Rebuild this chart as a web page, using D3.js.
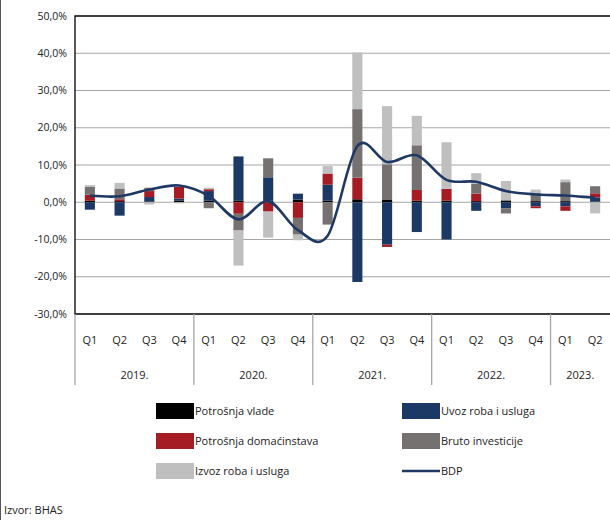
<!DOCTYPE html>
<html lang="bs">
<head>
<meta charset="UTF-8">
<title>Doprinosi rastu BDP-a</title>
<script src="https://cdn.jsdelivr.net/npm/d3@7"></script>
<style>
    body { margin: 0; background: #fff; }
    svg { display: block; font-family: "Open Sans", sans-serif; }
    .grid line { stroke: #a6a6a6; stroke-width: 1.2; }
    .ylab text { font-size: 10.5px; fill: #222; }
    .xlab text { font-size: 11px; fill: #222; }
    .legend text { font-size: 11px; fill: #222; }
</style>
</head>
<body>
<div id="chart"></div>
<script>
    // data, 2019 Q1 .. 2023 Q2
    var quarters = ["Q1", "Q2", "Q3", "Q4", "Q1", "Q2", "Q3", "Q4", "Q1", "Q2", "Q3", "Q4", "Q1", "Q2", "Q3", "Q4", "Q1", "Q2"];
    var years = ["2019.", "2020.", "2021.", "2022.", "2023."];
    var yearSpan = [4, 4, 4, 4, 2];
    var yTicks = [-30, -20, -10, 0, 10, 20, 30, 40, 50];

    var vlade = [0.4, 0.3, 0.2, 0.4, 0.4, 0.5, 0.4, 0.7, 0.4, 0.8, 0.6, 0.4, 0.4, 0.3, 0.5, 0.3, 0.3, 0.2];
    var uvoz = [-2.0, -3.6, 1.2, 0.6, 2.6, 11.8, 6.3, 1.6, 4.3, -21.4, -11.4, -8.0, -10.0, -2.3, -1.6, -1.1, -1.1, 1.1];
    var domacinstva = [1.6, 0.5, 1.6, 3.1, 0.5, -3.1, -2.5, -4.2, 3.0, 5.8, -0.6, 2.9, 3.2, 2.0, 0, -0.5, -1.2, 1.1];
    var investicije = [2.2, 2.9, 0.9, 0, -1.6, -4.5, 5.1, -4.5, -6.0, 18.4, 9.6, 12.0, 0, 2.7, -1.4, 2.2, 5.1, 1.9];
    var izvoz = [0.4, 1.5, -0.6, -0.3, 0.4, -9.4, -7.0, -1.5, 2.0, 15.2, 15.6, 7.9, 12.5, 2.8, 5.2, 0.9, 0.7, -3.0];
    var bdp = [1.8, 1.6, 3.4, 4.5, 1.7, -4.6, 0.3, -7.5, -9.0, 15.1, 10.8, 12.6, 6.0, 5.5, 3.0, 2.1, 1.8, 1.2];

    var series = [
        { key: "vlade", name: "Potrošnja vlade", color: "#000000", values: vlade },
        { key: "uvoz", name: "Uvoz roba i usluga", color: "#1c3864", values: uvoz },
        { key: "dom", name: "Potrošnja domaćinstava", color: "#a61c24", values: domacinstva },
        { key: "inv", name: "Bruto investicije", color: "#767171", values: investicije },
        { key: "izvoz", name: "Izvoz roba i usluga", color: "#bfbfbf", values: izvoz }
    ];
    var lineColor = "#1f3864";

    var W = 610, H = 520;
    var plot = { left: 75, right: 610, top: 16, bottom: 314 };

    var svg = d3.select("#chart").append("svg")
        .attr("width", W)
        .attr("height", H);

    // outer frame (left edge)
    svg.append("line")
        .attr("x1", 0.5).attr("x2", 0.5)
        .attr("y1", 0).attr("y2", H)
        .attr("stroke", "#555").attr("stroke-width", 1);

    var rows = quarters.map(function (q, i) {
        var r = { i: i };
        series.forEach(function (s) { r[s.key] = s.values[i]; });
        return r;
    });

    var x = d3.scaleBand()
        .domain(d3.range(quarters.length))
        .range([plot.left, plot.right])
        .padding(0);

    var y = d3.scaleLinear()
        .domain([-30, 50])
        .range([plot.bottom, plot.top]);

    // grid
    svg.append("g").attr("class", "grid")
        .selectAll("line")
        .data(yTicks.filter(function (d) { return d > -30 && d < 50; }))
        .enter().append("line")
        .attr("x1", plot.left).attr("x2", plot.right)
        .attr("y1", function (d) { return y(d); })
        .attr("y2", function (d) { return y(d); });

    // y labels
    var fmt = function (d) { return d3.format(".1f")(d).replace(".", ",").replace("−", "-") + "%"; };
    svg.append("g").attr("class", "ylab")
        .selectAll("text")
        .data(yTicks)
        .enter().append("text")
        .attr("x", plot.left - 8)
        .attr("y", function (d) { return y(d); })
        .attr("dy", "0.35em")
        .attr("text-anchor", "end")
        .text(fmt);

    // stacked bars
    var stack = d3.stack()
        .keys(series.map(function (s) { return s.key; }))
        .offset(d3.stackOffsetDiverging);
    var stacked = stack(rows);

    var barW = x.bandwidth() * 0.34;

    svg.append("g").selectAll("g")
        .data(stacked)
        .enter().append("g")
        .attr("fill", function (d, k) { return series[k].color; })
        .selectAll("rect")
        .data(function (d) { return d; })
        .enter().append("rect")
        .attr("x", function (d) { return x(d.data.i) + (x.bandwidth() - barW) / 2; })
        .attr("width", barW)
        .attr("y", function (d) { return y(Math.max(d[0], d[1])); })
        .attr("height", function (d) { return Math.abs(y(d[0]) - y(d[1])); });

    // BDP line
    var line = d3.line()
        .x(function (d, i) { return x(i) + x.bandwidth() / 2; })
        .y(function (d) { return y(d); })
        .curve(d3.curveCardinal.tension(0));

    svg.append("path")
        .datum(bdp)
        .attr("d", line)
        .attr("fill", "none")
        .attr("stroke", lineColor)
        .attr("stroke-width", 2.6);

    // plot frame: top, left, bottom
    svg.append("path")
        .attr("d", "M" + plot.right + "," + y(50) + "H" + plot.left + "V" + y(-30) + "H" + plot.right)
        .attr("fill", "none")
        .attr("stroke", "#000")
        .attr("stroke-width", 1.3);

    // category axis
    var xl = svg.append("g").attr("class", "xlab");
    xl.selectAll("text.q")
        .data(quarters)
        .enter().append("text")
        .attr("class", "q")
        .attr("x", function (d, i) { return x(i) + x.bandwidth() / 2; })
        .attr("y", 344)
        .attr("text-anchor", "middle")
        .text(function (d) { return d; });

    var starts = [0];
    yearSpan.forEach(function (n, k) { starts.push(starts[k] + n); });

    xl.selectAll("line.sep")
        .data(starts.slice(0, years.length))
        .enter().append("line")
        .attr("class", "sep")
        .attr("x1", function (d) { return x(d); })
        .attr("x2", function (d) { return x(d); })
        .attr("y1", y(-30)).attr("y2", 385)
        .attr("stroke", "#a6a6a6").attr("stroke-width", 1.3);

    xl.selectAll("text.yr")
        .data(years)
        .enter().append("text")
        .attr("class", "yr")
        .attr("x", function (d, k) {
            var a = x(starts[k]);
            var b = starts[k + 1] < quarters.length ? x(starts[k + 1]) : plot.right;
            return (a + b) / 2;
        })
        .attr("y", 379)
        .attr("text-anchor", "middle")
        .text(function (d) { return d; });

    // legend
    var legendItems = [
        { name: "Potrošnja vlade", color: "#000000", col: 0, row: 0 },
        { name: "Uvoz roba i usluga", color: "#1c3864", col: 1, row: 0 },
        { name: "Potrošnja domaćinstava", color: "#a61c24", col: 0, row: 1 },
        { name: "Bruto investicije", color: "#767171", col: 1, row: 1 },
        { name: "Izvoz roba i usluga", color: "#bfbfbf", col: 0, row: 2 },
        { name: "BDP", color: lineColor, col: 1, row: 2, line: true }
    ];

    var lg = svg.append("g").attr("class", "legend")
        .selectAll("g")
        .data(legendItems)
        .enter().append("g")
        .attr("transform", function (d) { return "translate(" + (156 + d.col * 246) + "," + (411 + d.row * 30) + ")"; });

    lg.filter(function (d) { return !d.line; })
        .append("rect")
        .attr("x", 0).attr("y", -8)
        .attr("width", 38).attr("height", 16)
        .attr("fill", function (d) { return d.color; });

    lg.filter(function (d) { return d.line; })
        .append("line")
        .attr("x1", 0).attr("x2", 38)
        .attr("y1", 0).attr("y2", 0)
        .attr("stroke", function (d) { return d.color; })
        .attr("stroke-width", 2.6);

    lg.append("text")
        .attr("x", 39)
        .attr("y", 0)
        .attr("dy", "0.35em")
        .text(function (d) { return d.name; });

    svg.append("text")
        .attr("x", 4)
        .attr("y", 514)
        .style("font-size", "11px")
        .attr("fill", "#222")
        .text("Izvor: BHAS");
</script>
</body>
</html>
